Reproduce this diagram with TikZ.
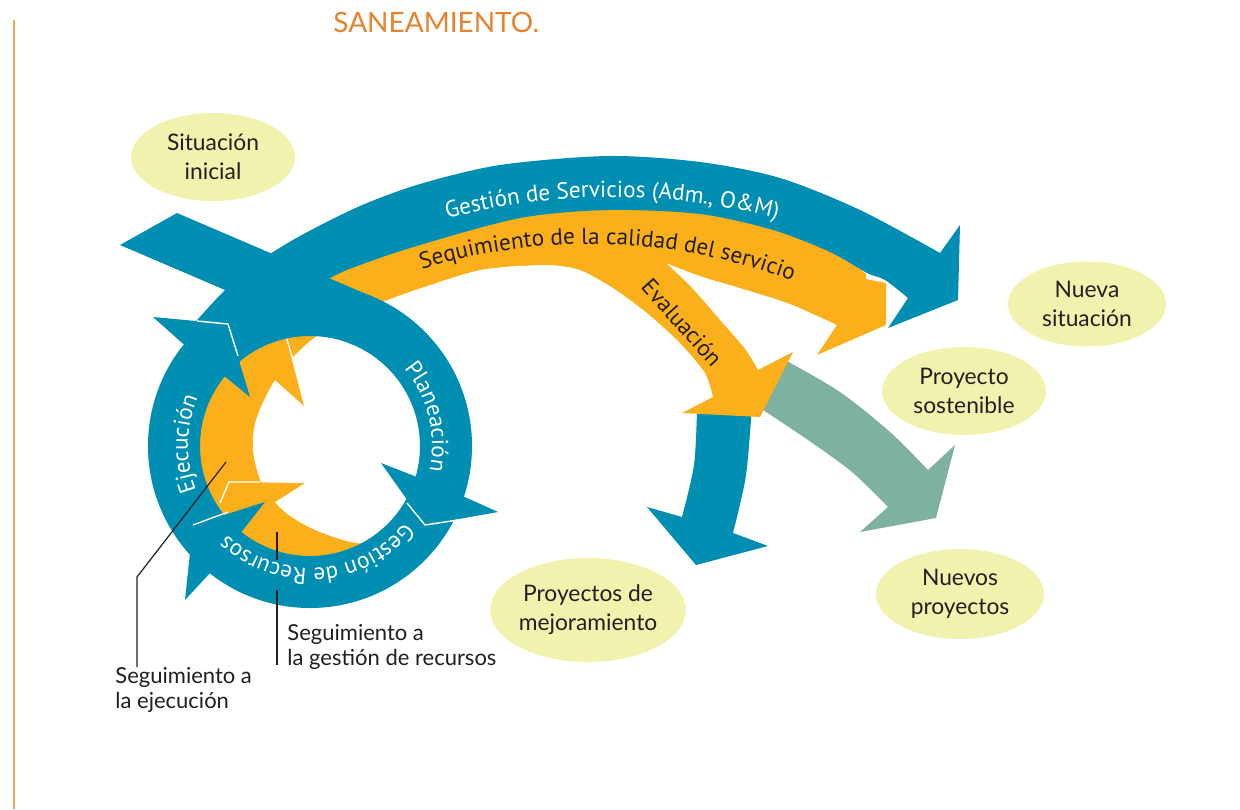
\documentclass[tikz,border=0pt]{standalone}
\usepackage{fontspec}
\setmainfont{Lato}
\newfontfamily\bandfont{PT Sans}
\usetikzlibrary{shapes.geometric,decorations.text}
\definecolor{cycblue}{RGB}{0,142,178}
\definecolor{cycorange}{RGB}{251,176,27}
\definecolor{cycgreen}{RGB}{127,177,160}
\definecolor{bubblefill}{RGB}{242,242,175}
\definecolor{titleorange}{RGB}{233,130,44}
\definecolor{rulecol}{RGB}{242,165,95}
\definecolor{ink}{RGB}{35,31,32}

\begin{document}
\begin{tikzpicture}[x=0.5pt, y=-0.5pt,
  bubble/.style={ellipse, fill=bubblefill, inner sep=0pt, align=center, text=ink,
    font=\fontsize{11.4}{14.5}\selectfont},
  note/.style={align=left, anchor=north west, inner sep=0pt, text=ink,
    font=\fontsize{11}{12.5}\selectfont},
  leader/.style={ink, line width=0.6pt},
  seam/.style={white, line width=0.7pt},
  bandlabel/.style 2 args={decorate, decoration={text along path, text align=center,
    text={|\bandfont\fontsize{11.6}{13}\selectfont\color{#1}|#2}}}
]
\useasboundingbox (0,0) rectangle (1240,809);
\fill[white] (0,0) rectangle (1240,809);
\draw[rulecol, line width=1pt] (14,20) -- (14,809);
\node[anchor=base west, inner sep=0pt, text=titleorange, font=\fontsize{14}{16}\selectfont] (title) at (333,32) {SANEAMIENTO.};

% salidas
\fill[cycgreen] (758,405) -- plot[smooth] coordinates {(785,360) (840,392) (890,432) (928,470)} -- (955,445) -- (936,518) -- (860,532) -- (888,507) -- plot[smooth] coordinates {(888,507) (852,472) (808,440) (763,410)} -- cycle;
\fill[cycblue] plot[smooth] coordinates {(697,410) (694,465) (682,517)} -- (647,507) -- (696,565) -- (768,546) -- (733,533) -- plot[smooth] coordinates {(733,533) (746,475) (752,405)} -- cycle;

% seguimiento (naranja)
\fill[cycorange] plot[smooth] coordinates {(240,330) (290,280) (340,258) (420,238) (520,214) (608,205) (700,209) (773,225) (830,248) (866,274)} -- (866,279) -- (886,283) -- (886,325) -- (817,355) -- (837,325) -- plot[smooth] coordinates {(837,325) (790,304) (740,288) (700,276) (666,263)} -- plot[smooth] coordinates {(530,265) (480,270) (430,285) (380,303) (330,328) (293,357)} -- (255,345) -- cycle;
\fill[cycorange] plot[smooth] coordinates {(520,266) (550,265) (580,270) (613,288) (647,313) (680,343) (705,373) (713,397)} -- (682,413) -- (760,417) -- (793,352) -- (758,370) -- plot[smooth] coordinates {(758,370) (745,349) (720,320) (692,288) (666,263)} -- (600,240) -- cycle;
\fill[cycorange] (310,446) circle[radius=112];
\fill[white] plot[smooth cycle] coordinates {(325,332) (293,357) (272,385) (256,420) (253,450) (262,484) (285,512) (320,532) (367,543) (412,515) (428,450) (410,375) (365,335)};
\fill[cycorange] (250,327) -- (285,333) -- (304,406) -- (275,380) -- (245,398) -- cycle;
\draw[seam] (264,329) -- (285,333) -- (293,360);
\fill[cycorange] (229,482) -- (305,483) -- (275,502) -- (235,540) -- (210,505) -- cycle;
\draw[seam] (220,503) -- (229,482) -- (260,482);

% ciclo y gestion (azul)
\fill[cycblue, even odd rule] (310,446) circle[radius=162] (310,446) circle[radius=110];
\fill[cycblue] (177,213) -- (373.7,297.3) -- (353.3,344.9) -- (120,245) -- cycle;
\fill[cycblue] plot[smooth] coordinates {(190,328) (223,292) (255,264) (300,236) (360,206) (420,184) (500,165) (608,156) (700,162) (780,178) (860,210) (940,253)} -- (960,225) -- (958,300) -- (888,328) -- plot[smooth] coordinates {(908,298) (885,280) (867,273) (830,252) (773,230) (700,214) (608,210) (520,218) (420,245) (360,265) (327,280) (277,317) (238,357)} -- cycle;
\fill[cycblue] (417,477) -- (381,463) -- (425,525) -- (498,512) -- (467,498) -- cycle;
\draw[seam] (407,503) -- (425,525) -- (458,520);
\fill[cycblue] (243,530) -- (265,502) -- (193,525) -- (185,600) -- (210,573) -- cycle;
\draw[seam] (193,525) -- (228,512);
\fill[cycblue] (181,342) -- (153,317) -- (228,324) -- (250,397) -- (223,375) -- cycle;
\draw[seam] (197,321) -- (228,324) -- (238,356);

% rotulos de las bandas
\path[bandlabel={white}{Gestión de Servicios (Adm., O{\&}M)}] (612,833) ++(-120:636) arc[start angle=-120, end angle=-60, radius=636];
\path[bandlabel={ink}{Sequimiento de la calidad del servicio}] (590,814) ++(-122:570) arc[start angle=-122, end angle=-54.4, radius=570];
\path[bandlabel={ink}{Evaluación}] (603,246) -- (749,410);
\path[bandlabel={white}{Planeación}] (310,446) ++(-60:122) arc[start angle=-60, end angle=32, radius=122];
\path[bandlabel={white}{Gestión de Recursos}] (310,446) ++(16:122) arc[start angle=16, end angle=156, radius=122];
\path[bandlabel={white}{Ejecución}] (310,446) ++(141:122) arc[start angle=141, end angle=221, radius=122];

% situaciones
\node[bubble, minimum width=82pt, minimum height=44pt] (inicial) at (213,157) {Situación\\inicial};
\node[bubble, minimum width=79pt, minimum height=42.5pt] (nueva) at (1087,304) {Nueva\\situación};
\node[bubble, minimum width=82pt, minimum height=44pt] (sostenible) at (964,391) {Proyecto\\sostenible};
\node[bubble, minimum width=84pt, minimum height=45pt] (nuevos) at (960,594) {Nuevos\\proyectos};
\node[bubble, minimum width=95pt, minimum height=52pt] (mejora) at (588,610) {Proyectos de\\mejoramiento};

% llamadas
\node[note] (ejecnote) at (115,667) {Seguimiento a\\la ejecución};
\node[note] (recnote) at (287,624) {Seguimiento a\\la gestión de recursos};
\coordinate (ejecpt) at (226,462);
\coordinate (ejecbend) at (137,577);
\coordinate (recpt) at (277,532);
\coordinate (recgap) at (277,560);
\coordinate (recgapend) at (277,590);
\coordinate (recend) at (277,665);
\draw[leader] (ejecpt) -- (ejecbend) -- (ejecbend |- ejecnote.north);
\draw[leader] (recpt) -- (recgap);
\draw[leader] (recgapend) -- (recend);
\end{tikzpicture}
\end{document}
